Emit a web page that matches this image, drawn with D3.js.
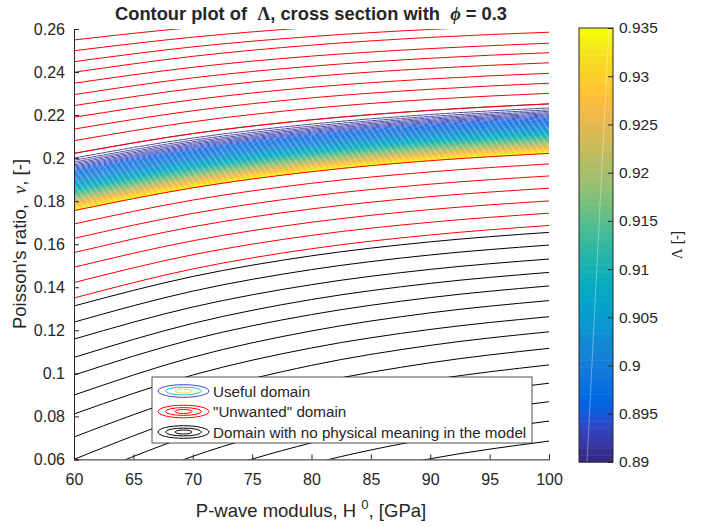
<!DOCTYPE html>
<html>
<head>
<meta charset="utf-8">
<script src="https://cdn.jsdelivr.net/npm/d3@7"></script>
<style>
  body { margin: 0; background: #fff; }
  text { font-family: "Liberation Sans", Arial, sans-serif; fill: #262626; }
</style>
</head>
<body>
<div id="chart"></div>
<script>
// P-wave modulus samples (GPa) at which each contour line is read
const hSamples = [60, 70, 80, 90, 100];

// Red contours above the useful band (last one = upper edge of the band)
const upperRedLines = [
    [0.2601, 0.2653, 0.2690, 0.2715, 0.2732],
    [0.2549, 0.2607, 0.2647, 0.2674, 0.2693],
    [0.2499, 0.2562, 0.2607, 0.2637, 0.2657],
    [0.2448, 0.2517, 0.2565, 0.2598, 0.2620],
    [0.2399, 0.2473, 0.2525, 0.2561, 0.2585],
    [0.2348, 0.2422, 0.2474, 0.2509, 0.2534],
    [0.2295, 0.2373, 0.2427, 0.2464, 0.2490],
    [0.2244, 0.2323, 0.2379, 0.2417, 0.2443],
    [0.2190, 0.2271, 0.2329, 0.2368, 0.2394],
    [0.2135, 0.2220, 0.2280, 0.2320, 0.2348],
    [0.2081, 0.2169, 0.2231, 0.2273, 0.2301],
    [0.2022, 0.2114, 0.2178, 0.2222, 0.2252]
];

// Red contours below the band (first one = lower edge of the band)
const lowerRedLines = [
    [0.1756, 0.1862, 0.1937, 0.1988, 0.2022],
    [0.1694, 0.1805, 0.1883, 0.1936, 0.1973],
    [0.1627, 0.1743, 0.1824, 0.1879, 0.1917],
    [0.1561, 0.1681, 0.1764, 0.1821, 0.1860],
    [0.1493, 0.1616, 0.1702, 0.1761, 0.1801],
    [0.1422, 0.1551, 0.1641, 0.1702, 0.1744],
    [0.1350, 0.1485, 0.1579, 0.1643, 0.1687]
];

// Black contours (no physical meaning)
const blackLines = [
    [0.1313, 0.1450, 0.1546, 0.1611, 0.1655],
    [0.1238, 0.1382, 0.1482, 0.1550, 0.1596],
    [0.1159, 0.1308, 0.1412, 0.1483, 0.1531],
    [0.1074, 0.1232, 0.1343, 0.1418, 0.1469],
    [0.0992, 0.1158, 0.1273, 0.1352, 0.1406],
    [0.0899, 0.1075, 0.1197, 0.1281, 0.1338],
    [0.0811, 0.0992, 0.1118, 0.1204, 0.1263],
    [0.0704, 0.0900, 0.1037, 0.1130, 0.1193],
    [0.0600, 0.0807, 0.0951, 0.1049, 0.1116],
    [0.0500, 0.0715, 0.0866, 0.0969, 0.1039],
    [0.0388, 0.0614, 0.0773, 0.0880, 0.0954],
    [0.0272, 0.0510, 0.0677, 0.0791, 0.0868],
    [0.0156, 0.0405, 0.0579, 0.0697, 0.0778],
    [0.0049, 0.0304, 0.0482, 0.0603, 0.0685]
];

// Lambda range of the useful domain, number of its contour levels,
// and how the levels crowd toward the low-Lambda (upper) edge
const lambdaRange = [0.89, 0.935];
const bandLevelCount = 90;
const bandSkew = 1.8;

const xTicks = [60, 65, 70, 75, 80, 85, 90, 95, 100];
const yTicks = [0.06, 0.08, 0.1, 0.12, 0.14, 0.16, 0.18, 0.2, 0.22, 0.24, 0.26];
const yTickLabels = ['0.06', '0.08', '0.1', '0.12', '0.14', '0.16', '0.18', '0.2', '0.22', '0.24', '0.26'];
const cbTicks = [0.89, 0.895, 0.9, 0.905, 0.91, 0.915, 0.92, 0.925, 0.93, 0.935];
const cbTickLabels = ['0.89', '0.895', '0.9', '0.905', '0.91', '0.915', '0.92', '0.925', '0.93', '0.935'];

const legendItems = [
    { label: 'Useful domain', colors: ['#3f3fc8', '#22c0c8', '#f0e020'] },
    { label: '"Unwanted" domain', colors: ['#ff0000', '#ff0000', '#ff0000'] },
    { label: 'Domain with no physical meaning in the model', colors: ['#000000', '#000000', '#000000'] }
];

// parula, 64 entries
const parula = [
    [0.2081,0.1663,0.5292],[0.2116,0.1898,0.5777],[0.2123,0.2138,0.6270],[0.2081,0.2386,0.6771],
    [0.1959,0.2645,0.7279],[0.1707,0.2919,0.7792],[0.1253,0.3242,0.8303],[0.0591,0.3598,0.8683],
    [0.0117,0.3875,0.8820],[0.0060,0.4086,0.8828],[0.0165,0.4266,0.8786],[0.0329,0.4430,0.8720],
    [0.0498,0.4586,0.8641],[0.0629,0.4737,0.8554],[0.0723,0.4887,0.8467],[0.0779,0.5040,0.8384],
    [0.0793,0.5200,0.8312],[0.0749,0.5375,0.8263],[0.0641,0.5570,0.8240],[0.0488,0.5772,0.8228],
    [0.0343,0.5966,0.8199],[0.0265,0.6137,0.8135],[0.0239,0.6287,0.8038],[0.0231,0.6418,0.7913],
    [0.0228,0.6535,0.7768],[0.0267,0.6642,0.7607],[0.0384,0.6743,0.7436],[0.0590,0.6838,0.7254],
    [0.0843,0.6928,0.7062],[0.1133,0.7015,0.6859],[0.1453,0.7098,0.6646],[0.1801,0.7177,0.6424],
    [0.2178,0.7250,0.6193],[0.2586,0.7317,0.5954],[0.3022,0.7376,0.5712],[0.3482,0.7424,0.5473],
    [0.3953,0.7459,0.5244],[0.4420,0.7481,0.5033],[0.4871,0.7491,0.4840],[0.5300,0.7491,0.4661],
    [0.5709,0.7485,0.4494],[0.6099,0.7473,0.4337],[0.6473,0.7456,0.4188],[0.6834,0.7435,0.4044],
    [0.7184,0.7411,0.3905],[0.7525,0.7384,0.3768],[0.7858,0.7356,0.3633],[0.8185,0.7327,0.3498],
    [0.8507,0.7299,0.3360],[0.8824,0.7274,0.3217],[0.9139,0.7258,0.3063],[0.9450,0.7261,0.2886],
    [0.9739,0.7314,0.2666],[0.9938,0.7455,0.2403],[0.9990,0.7653,0.2164],[0.9955,0.7861,0.1967],
    [0.9880,0.8066,0.1794],[0.9789,0.8271,0.1633],[0.9697,0.8481,0.1475],[0.9626,0.8705,0.1309],
    [0.9589,0.8949,0.1132],[0.9598,0.9218,0.0948],[0.9661,0.9514,0.0755],[0.9763,0.9831,0.0538]
].map(c => d3.rgb(c[0] * 255, c[1] * 255, c[2] * 255).formatHex());

const W = 702, H = 527;
const margin = { top: 29, left: 74 };
const width = 475, height = 430.4;

const svg = d3.select('#chart').append('svg')
    .attr('width', W).attr('height', H);

const defs = svg.append('defs');
defs.append('clipPath').attr('id', 'plotClip')
    .append('rect').attr('width', width).attr('height', height);

const g = svg.append('g').attr('transform', `translate(${margin.left},${margin.top})`);

const x = d3.scaleLinear().domain([60, 100]).range([0, width]);
const y = d3.scaleLinear().domain([0.06, 0.26]).range([height, 0]);
const color = d3.scaleQuantize().domain(lambdaRange).range(parula);

const line = d3.line()
    .x((d, i) => x(hSamples[i]))
    .y(d => y(d))
    .curve(d3.curveMonotoneX);

const plot = g.append('g').attr('clip-path', 'url(#plotClip)');

// useful band: contour levels between the two red edges
const bandTop = upperRedLines[upperRedLines.length - 1];
const bandBottom = lowerRedLines[0];
const bandLevels = d3.range(bandLevelCount + 1).map(j => j / bandLevelCount);
const bandG = plot.append('g');
bandG.selectAll('path')
    .data(bandLevels)
    .join('path')
    .attr('d', u => {
        const s = Math.pow(u, 1 / bandSkew);
        return line(bandTop.map((v, i) => v + (bandBottom[i] - v) * s));
    })
    .attr('fill', 'none')
    .attr('stroke', u => color(lambdaRange[0] + u * (lambdaRange[1] - lambdaRange[0])))
    .attr('stroke-opacity', 0.9)
    .attr('stroke-width', 1);

// faint diagonal banding that the dense contour lines produce
const stripes = defs.append('pattern')
    .attr('id', 'bandStripes')
    .attr('patternUnits', 'userSpaceOnUse')
    .attr('width', 5).attr('height', 5)
    .attr('patternTransform', 'rotate(-35)');
stripes.append('rect').attr('width', 2).attr('height', 5).attr('fill', '#fff').attr('fill-opacity', 0.22);
const bandArea = d3.area()
    .x((d, i) => x(hSamples[i]))
    .y0((d, i) => y(bandBottom[i]))
    .y1(d => y(d))
    .curve(d3.curveMonotoneX);
bandG.append('path')
    .attr('d', bandArea(bandTop))
    .attr('fill', 'url(#bandStripes)');

plot.append('g').selectAll('path')
    .data(blackLines)
    .join('path')
    .attr('d', line)
    .attr('fill', 'none')
    .attr('stroke', '#000')
    .attr('stroke-width', 1);

plot.append('g').selectAll('path')
    .data(upperRedLines.concat(lowerRedLines))
    .join('path')
    .attr('d', line)
    .attr('fill', 'none')
    .attr('stroke', '#ff0000')
    .attr('stroke-width', 1);

// axes
const xAxis = d3.axisBottom(x).tickValues(xTicks).tickSize(-5).tickPadding(14).tickFormat(d3.format('d'));
const yAxis = d3.axisLeft(y).tickValues(yTicks).tickSize(-5).tickPadding(9)
    .tickFormat((d, i) => yTickLabels[i]);

const xAxisG = g.append('g').attr('transform', `translate(0,${height})`).call(xAxis);
const yAxisG = g.append('g').call(yAxis);
[xAxisG, yAxisG].forEach(a => {
    a.select('.domain').attr('stroke', '#262626');
    a.selectAll('line').attr('stroke', '#262626');
    a.selectAll('text').attr('fill', '#262626').style('font-size', '16px');
});

// legend
const legend = svg.append('g').attr('transform', 'translate(152,377)');
legend.append('rect')
    .attr('width', 380).attr('height', 66)
    .attr('fill', '#fff').attr('stroke', '#262626').attr('stroke-width', 0.8);
const rows = legend.selectAll('g.item')
    .data(legendItems)
    .join('g')
    .attr('class', 'item')
    .attr('transform', (d, i) => `translate(31.5,${14 + i * 20.5})`);
const ellSizes = [[25.5, 6.3], [18, 3.9], [8.5, 2]];
rows.each(function (d) {
    d3.select(this).selectAll('ellipse')
        .data(ellSizes)
        .join('ellipse')
        .attr('rx', e => e[0]).attr('ry', e => e[1])
        .attr('fill', 'none')
        .attr('stroke', (e, k) => d.colors[k])
        .attr('stroke-width', 1);
});
rows.append('text')
    .attr('x', 29.5).attr('y', 5.5)
    .style('font-size', '15.2px')
    .attr('fill', '#000')
    .text(d => d.label);

// colorbar
const cbX = 579, cbW = 34, cbTop = 28, cbBottom = 462;
const cy = d3.scaleLinear().domain(lambdaRange).range([cbBottom, cbTop]);
const cbStep = (lambdaRange[1] - lambdaRange[0]) / parula.length;
svg.append('g').selectAll('rect')
    .data(parula)
    .join('rect')
    .attr('x', cbX)
    .attr('y', (c, i) => cy(lambdaRange[0] + (i + 1) * cbStep))
    .attr('width', cbW)
    .attr('height', (c, i) => cy(lambdaRange[0] + i * cbStep) - cy(lambdaRange[0] + (i + 1) * cbStep) + 0.5)
    .attr('fill', c => c);
svg.append('line')
    .attr('x1', 609).attr('y1', cbTop).attr('x2', 587).attr('y2', cbBottom)
    .attr('stroke', '#fff').attr('stroke-opacity', 0.35).attr('stroke-width', 1);
const cbAxis = d3.axisRight(cy).tickValues(cbTicks).tickSize(-5).tickPadding(6)
    .tickFormat((d, i) => cbTickLabels[i]);
const cbAxisG = svg.append('g').attr('transform', `translate(${cbX + cbW},0)`).call(cbAxis);
cbAxisG.select('.domain').remove();
cbAxisG.selectAll('line').attr('stroke', '#262626');
cbAxisG.selectAll('text').attr('fill', '#262626').style('font-size', '15.5px');
svg.append('rect')
    .attr('x', cbX).attr('y', cbTop).attr('width', cbW).attr('height', cbBottom - cbTop)
    .attr('fill', 'none').attr('stroke', '#262626').attr('stroke-width', 1);

svg.append('text')
    .attr('transform', `translate(682,245) rotate(-90)`)
    .attr('text-anchor', 'middle')
    .style('font-size', '15px')
    .html('<tspan font-family="Liberation Serif">Λ</tspan> [-]');

// title and axis labels
svg.append('text')
    .attr('x', 311).attr('y', 20)
    .attr('text-anchor', 'middle')
    .attr('fill', '#000')
    .style('font-size', '18.3px').style('font-weight', 'bold')
    .html('Contour plot of&#160; <tspan font-family="Liberation Serif">Λ</tspan>, cross section with&#160; <tspan font-family="Liberation Serif" font-style="italic">ϕ</tspan> = 0.3');

svg.append('text')
    .attr('transform', 'translate(26,244) rotate(-90)')
    .attr('text-anchor', 'middle')
    .style('font-size', '18.5px')
    .html('Poisson\'s ratio,&#160; <tspan font-family="Liberation Serif" font-style="italic">ν</tspan>, [-]');

svg.append('text')
    .attr('x', 311).attr('y', 517)
    .attr('text-anchor', 'middle')
    .style('font-size', '18.5px')
    .html('P-wave modulus, H <tspan dy="-8" font-size="13px">0</tspan><tspan dy="8">, [GPa]</tspan>');
</script>
</body>
</html>
